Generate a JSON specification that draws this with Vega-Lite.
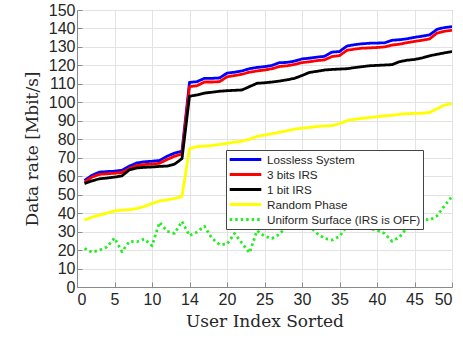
{
  "$schema": "https://vega.github.io/schema/vega-lite/v6.json",
  "width": 375,
  "height": 277,
  "autosize": {"type": "none"},
  "padding": {"left": 77, "top": 10, "right": 11, "bottom": 56},
  "background": "white",
  "config": {
    "view": {"stroke": "#8a8a8a", "strokeWidth": 1},
    "axis": {
      "domainColor": "#8a8a8a",
      "tickColor": "#8a8a8a",
      "gridColor": "#e3e3e3",
      "labelFont": "Liberation Sans",
      "labelFontSize": 16,
      "labelColor": "#262626",
      "titleFont": "DejaVu Serif",
      "titleFontSize": 17,
      "titleFontWeight": "normal",
      "titleColor": "#262626"
    },
    "legend": {
      "labelFont": "Liberation Sans",
      "labelFontSize": 11.7,
      "labelColor": "#262626"
    }
  },
  "data": {"values": [
    {"x":1,"s":"Lossless System","y":57.7},{"x":2,"s":"Lossless System","y":60.5},{"x":3,"s":"Lossless System","y":62.2},{"x":4,"s":"Lossless System","y":62.5},{"x":5,"s":"Lossless System","y":62.7},{"x":6,"s":"Lossless System","y":63.2},{"x":7,"s":"Lossless System","y":65.5},{"x":8,"s":"Lossless System","y":67.2},{"x":9,"s":"Lossless System","y":67.8},{"x":10,"s":"Lossless System","y":68.1},
    {"x":11,"s":"Lossless System","y":68.5},{"x":12,"s":"Lossless System","y":70.8},{"x":13,"s":"Lossless System","y":72.5},{"x":14,"s":"Lossless System","y":73.6},{"x":15,"s":"Lossless System","y":110.8},{"x":16,"s":"Lossless System","y":111.2},{"x":17,"s":"Lossless System","y":113},{"x":18,"s":"Lossless System","y":113},{"x":19,"s":"Lossless System","y":113.2},{"x":20,"s":"Lossless System","y":115.8},
    {"x":21,"s":"Lossless System","y":116.3},{"x":22,"s":"Lossless System","y":117},{"x":23,"s":"Lossless System","y":118.2},{"x":24,"s":"Lossless System","y":118.9},{"x":25,"s":"Lossless System","y":119.3},{"x":26,"s":"Lossless System","y":120},{"x":27,"s":"Lossless System","y":121.5},{"x":28,"s":"Lossless System","y":121.6},{"x":29,"s":"Lossless System","y":122.3},{"x":30,"s":"Lossless System","y":123.5},
    {"x":31,"s":"Lossless System","y":123.9},{"x":32,"s":"Lossless System","y":124.5},{"x":33,"s":"Lossless System","y":124.9},{"x":34,"s":"Lossless System","y":127.2},{"x":35,"s":"Lossless System","y":127.5},{"x":36,"s":"Lossless System","y":130.5},{"x":37,"s":"Lossless System","y":131.2},{"x":38,"s":"Lossless System","y":131.7},{"x":39,"s":"Lossless System","y":132},{"x":40,"s":"Lossless System","y":132.1},
    {"x":41,"s":"Lossless System","y":132.2},{"x":42,"s":"Lossless System","y":133.6},{"x":43,"s":"Lossless System","y":133.9},{"x":44,"s":"Lossless System","y":134.4},{"x":45,"s":"Lossless System","y":135.2},{"x":46,"s":"Lossless System","y":135.8},{"x":47,"s":"Lossless System","y":136.5},{"x":48,"s":"Lossless System","y":139.5},{"x":49,"s":"Lossless System","y":140.5},{"x":50,"s":"Lossless System","y":141},

    {"x":1,"s":"3 bits IRS","y":56.8},{"x":2,"s":"3 bits IRS","y":59.5},{"x":3,"s":"3 bits IRS","y":61},{"x":4,"s":"3 bits IRS","y":61.3},{"x":5,"s":"3 bits IRS","y":61.6},{"x":6,"s":"3 bits IRS","y":62},{"x":7,"s":"3 bits IRS","y":64.2},{"x":8,"s":"3 bits IRS","y":65.8},{"x":9,"s":"3 bits IRS","y":66.3},{"x":10,"s":"3 bits IRS","y":66.6},
    {"x":11,"s":"3 bits IRS","y":67},{"x":12,"s":"3 bits IRS","y":69},{"x":13,"s":"3 bits IRS","y":70.8},{"x":14,"s":"3 bits IRS","y":72},{"x":15,"s":"3 bits IRS","y":108.5},{"x":16,"s":"3 bits IRS","y":109},{"x":17,"s":"3 bits IRS","y":111},{"x":18,"s":"3 bits IRS","y":111},{"x":19,"s":"3 bits IRS","y":111.2},{"x":20,"s":"3 bits IRS","y":113.8},
    {"x":21,"s":"3 bits IRS","y":114.5},{"x":22,"s":"3 bits IRS","y":115.2},{"x":23,"s":"3 bits IRS","y":116.3},{"x":24,"s":"3 bits IRS","y":117},{"x":25,"s":"3 bits IRS","y":117.5},{"x":26,"s":"3 bits IRS","y":118.2},{"x":27,"s":"3 bits IRS","y":119.4},{"x":28,"s":"3 bits IRS","y":119.8},{"x":29,"s":"3 bits IRS","y":120.5},{"x":30,"s":"3 bits IRS","y":121.5},
    {"x":31,"s":"3 bits IRS","y":122},{"x":32,"s":"3 bits IRS","y":122.6},{"x":33,"s":"3 bits IRS","y":123},{"x":34,"s":"3 bits IRS","y":124.8},{"x":35,"s":"3 bits IRS","y":125.3},{"x":36,"s":"3 bits IRS","y":128.2},{"x":37,"s":"3 bits IRS","y":128.8},{"x":38,"s":"3 bits IRS","y":129.3},{"x":39,"s":"3 bits IRS","y":129.5},{"x":40,"s":"3 bits IRS","y":129.7},
    {"x":41,"s":"3 bits IRS","y":130},{"x":42,"s":"3 bits IRS","y":131},{"x":43,"s":"3 bits IRS","y":131.5},{"x":44,"s":"3 bits IRS","y":132.3},{"x":45,"s":"3 bits IRS","y":133},{"x":46,"s":"3 bits IRS","y":133.6},{"x":47,"s":"3 bits IRS","y":134.3},{"x":48,"s":"3 bits IRS","y":137.5},{"x":49,"s":"3 bits IRS","y":138.5},{"x":50,"s":"3 bits IRS","y":139},

    {"x":1,"s":"1 bit IRS","y":56},{"x":2,"s":"1 bit IRS","y":57.5},{"x":3,"s":"1 bit IRS","y":58.6},{"x":4,"s":"1 bit IRS","y":59},{"x":5,"s":"1 bit IRS","y":59.5},{"x":6,"s":"1 bit IRS","y":60.2},{"x":7,"s":"1 bit IRS","y":63.5},{"x":8,"s":"1 bit IRS","y":64.5},{"x":9,"s":"1 bit IRS","y":64.8},{"x":10,"s":"1 bit IRS","y":65},
    {"x":11,"s":"1 bit IRS","y":65.3},{"x":12,"s":"1 bit IRS","y":65.5},{"x":13,"s":"1 bit IRS","y":66.5},{"x":14,"s":"1 bit IRS","y":69.5},{"x":15,"s":"1 bit IRS","y":103.3},{"x":16,"s":"1 bit IRS","y":104},{"x":17,"s":"1 bit IRS","y":105},{"x":18,"s":"1 bit IRS","y":105.5},{"x":19,"s":"1 bit IRS","y":106},{"x":20,"s":"1 bit IRS","y":106.3},
    {"x":21,"s":"1 bit IRS","y":106.5},{"x":22,"s":"1 bit IRS","y":106.7},{"x":23,"s":"1 bit IRS","y":108.5},{"x":24,"s":"1 bit IRS","y":110.3},{"x":25,"s":"1 bit IRS","y":110.6},{"x":26,"s":"1 bit IRS","y":111},{"x":27,"s":"1 bit IRS","y":111.5},{"x":28,"s":"1 bit IRS","y":112.2},{"x":29,"s":"1 bit IRS","y":113},{"x":30,"s":"1 bit IRS","y":114.5},
    {"x":31,"s":"1 bit IRS","y":116.2},{"x":32,"s":"1 bit IRS","y":116.8},{"x":33,"s":"1 bit IRS","y":117.5},{"x":34,"s":"1 bit IRS","y":117.8},{"x":35,"s":"1 bit IRS","y":118},{"x":36,"s":"1 bit IRS","y":118.2},{"x":37,"s":"1 bit IRS","y":118.8},{"x":38,"s":"1 bit IRS","y":119.3},{"x":39,"s":"1 bit IRS","y":119.8},{"x":40,"s":"1 bit IRS","y":120},
    {"x":41,"s":"1 bit IRS","y":120.2},{"x":42,"s":"1 bit IRS","y":120.4},{"x":43,"s":"1 bit IRS","y":122},{"x":44,"s":"1 bit IRS","y":122.8},{"x":45,"s":"1 bit IRS","y":123.2},{"x":46,"s":"1 bit IRS","y":124},{"x":47,"s":"1 bit IRS","y":125.2},{"x":48,"s":"1 bit IRS","y":126},{"x":49,"s":"1 bit IRS","y":126.8},{"x":50,"s":"1 bit IRS","y":127.5},

    {"x":1,"s":"Random Phase","y":36.2},{"x":2,"s":"Random Phase","y":37.8},{"x":3,"s":"Random Phase","y":38.9},{"x":4,"s":"Random Phase","y":40},{"x":5,"s":"Random Phase","y":41.2},{"x":6,"s":"Random Phase","y":41.6},{"x":7,"s":"Random Phase","y":41.9},{"x":8,"s":"Random Phase","y":42.5},{"x":9,"s":"Random Phase","y":43.7},{"x":10,"s":"Random Phase","y":45.2},
    {"x":11,"s":"Random Phase","y":46.6},{"x":12,"s":"Random Phase","y":47.2},{"x":13,"s":"Random Phase","y":47.9},{"x":14,"s":"Random Phase","y":49.1},{"x":15,"s":"Random Phase","y":75},{"x":16,"s":"Random Phase","y":76},{"x":17,"s":"Random Phase","y":76.3},{"x":18,"s":"Random Phase","y":76.6},{"x":19,"s":"Random Phase","y":77.2},{"x":20,"s":"Random Phase","y":77.8},
    {"x":21,"s":"Random Phase","y":78.4},{"x":22,"s":"Random Phase","y":79},{"x":23,"s":"Random Phase","y":80},{"x":24,"s":"Random Phase","y":81.5},{"x":25,"s":"Random Phase","y":82.3},{"x":26,"s":"Random Phase","y":83},{"x":27,"s":"Random Phase","y":83.8},{"x":28,"s":"Random Phase","y":84.6},{"x":29,"s":"Random Phase","y":85.5},{"x":30,"s":"Random Phase","y":86},
    {"x":31,"s":"Random Phase","y":86.4},{"x":32,"s":"Random Phase","y":86.9},{"x":33,"s":"Random Phase","y":87.2},{"x":34,"s":"Random Phase","y":87.4},{"x":35,"s":"Random Phase","y":88.5},{"x":36,"s":"Random Phase","y":90.1},{"x":37,"s":"Random Phase","y":90.8},{"x":38,"s":"Random Phase","y":91.3},{"x":39,"s":"Random Phase","y":91.8},{"x":40,"s":"Random Phase","y":92.2},
    {"x":41,"s":"Random Phase","y":92.7},{"x":42,"s":"Random Phase","y":93},{"x":43,"s":"Random Phase","y":93.5},{"x":44,"s":"Random Phase","y":93.9},{"x":45,"s":"Random Phase","y":94},{"x":46,"s":"Random Phase","y":94.1},{"x":47,"s":"Random Phase","y":94.5},{"x":48,"s":"Random Phase","y":96.5},{"x":49,"s":"Random Phase","y":98.6},{"x":50,"s":"Random Phase","y":99.2},

    {"x":1,"s":"Uniform Surface (IRS is OFF)","y":20.9},{"x":2,"s":"Uniform Surface (IRS is OFF)","y":18.8},{"x":3,"s":"Uniform Surface (IRS is OFF)","y":20},{"x":4,"s":"Uniform Surface (IRS is OFF)","y":21.7},{"x":5,"s":"Uniform Surface (IRS is OFF)","y":26.5},{"x":6,"s":"Uniform Surface (IRS is OFF)","y":19.1},{"x":7,"s":"Uniform Surface (IRS is OFF)","y":24.7},{"x":8,"s":"Uniform Surface (IRS is OFF)","y":24.5},{"x":9,"s":"Uniform Surface (IRS is OFF)","y":26},{"x":10,"s":"Uniform Surface (IRS is OFF)","y":22.3},
    {"x":11,"s":"Uniform Surface (IRS is OFF)","y":35},{"x":12,"s":"Uniform Surface (IRS is OFF)","y":30.2},{"x":13,"s":"Uniform Surface (IRS is OFF)","y":29},{"x":14,"s":"Uniform Surface (IRS is OFF)","y":35.5},{"x":15,"s":"Uniform Surface (IRS is OFF)","y":27.8},{"x":16,"s":"Uniform Surface (IRS is OFF)","y":29.8},{"x":17,"s":"Uniform Surface (IRS is OFF)","y":32.9},{"x":18,"s":"Uniform Surface (IRS is OFF)","y":26.3},{"x":19,"s":"Uniform Surface (IRS is OFF)","y":23},{"x":20,"s":"Uniform Surface (IRS is OFF)","y":23.2},
    {"x":21,"s":"Uniform Surface (IRS is OFF)","y":29},{"x":22,"s":"Uniform Surface (IRS is OFF)","y":23.7},{"x":23,"s":"Uniform Surface (IRS is OFF)","y":18.5},{"x":24,"s":"Uniform Surface (IRS is OFF)","y":30.5},{"x":25,"s":"Uniform Surface (IRS is OFF)","y":27.5},{"x":26,"s":"Uniform Surface (IRS is OFF)","y":26.3},{"x":27,"s":"Uniform Surface (IRS is OFF)","y":28.6},{"x":28,"s":"Uniform Surface (IRS is OFF)","y":33},{"x":29,"s":"Uniform Surface (IRS is OFF)","y":35},{"x":30,"s":"Uniform Surface (IRS is OFF)","y":32},
    {"x":31,"s":"Uniform Surface (IRS is OFF)","y":33},{"x":32,"s":"Uniform Surface (IRS is OFF)","y":29},{"x":33,"s":"Uniform Surface (IRS is OFF)","y":26.3},{"x":34,"s":"Uniform Surface (IRS is OFF)","y":25.4},{"x":35,"s":"Uniform Surface (IRS is OFF)","y":27.5},{"x":36,"s":"Uniform Surface (IRS is OFF)","y":33},{"x":37,"s":"Uniform Surface (IRS is OFF)","y":35},{"x":38,"s":"Uniform Surface (IRS is OFF)","y":33.5},{"x":39,"s":"Uniform Surface (IRS is OFF)","y":31.5},{"x":40,"s":"Uniform Surface (IRS is OFF)","y":30.8},
    {"x":41,"s":"Uniform Surface (IRS is OFF)","y":29},{"x":42,"s":"Uniform Surface (IRS is OFF)","y":24.8},{"x":43,"s":"Uniform Surface (IRS is OFF)","y":27},{"x":44,"s":"Uniform Surface (IRS is OFF)","y":32},{"x":45,"s":"Uniform Surface (IRS is OFF)","y":34},{"x":46,"s":"Uniform Surface (IRS is OFF)","y":37},{"x":47,"s":"Uniform Surface (IRS is OFF)","y":36.2},{"x":48,"s":"Uniform Surface (IRS is OFF)","y":38.5},{"x":49,"s":"Uniform Surface (IRS is OFF)","y":44},{"x":50,"s":"Uniform Surface (IRS is OFF)","y":49}
  ]},
  "mark": {"type": "line", "strokeWidth": 2.8, "strokeJoin": "round", "clip": true},
  "encoding": {
    "x": {
      "field": "x", "type": "quantitative",
      "scale": {"domain": [0, 50], "nice": false, "zero": false},
      "axis": {
        "title": "User Index Sorted",
        "values": [0, 5, 10, 15, 20, 25, 30, 35, 40, 45, 50],
        "labelExpr": "datum.value == 15 ? '14' : datum.label",
        "tickSize": -5,
        "labelPadding": 9,
        "titlePadding": 6
      }
    },
    "y": {
      "field": "y", "type": "quantitative",
      "scale": {"domain": [0, 150], "nice": false},
      "axis": {
        "title": "Data rate [Mbit/s]",
        "values": [0, 10, 20, 30, 40, 50, 60, 70, 80, 90, 100, 110, 120, 130, 140, 150],
        "tickSize": -5,
        "labelPadding": 7,
        "titlePadding": 7
      }
    },
    "color": {
      "field": "s", "type": "nominal",
      "scale": {
        "domain": ["Lossless System", "3 bits IRS", "1 bit IRS", "Random Phase", "Uniform Surface (IRS is OFF)"],
        "range": ["#0000ff", "#ff0000", "#000000", "#ffff00", "#22ee22"]
      },
      "legend": {
        "title": null,
        "orient": "none",
        "legendX": 149,
        "legendY": 140,
        "fillColor": "white",
        "strokeColor": "#444444",
        "padding": 2,
        "rowPadding": 0,
        "clipHeight": 15,
        "symbolType": "stroke",
        "symbolSize": 1000,
        "symbolStrokeWidth": 3,
        "labelOffset": 4,
        "labelLimit": 400
      }
    },
    "strokeDash": {
      "field": "s", "type": "nominal",
      "scale": {
        "domain": ["Lossless System", "3 bits IRS", "1 bit IRS", "Random Phase", "Uniform Surface (IRS is OFF)"],
        "range": [[1, 0], [1, 0], [1, 0], [1, 0], [2.5, 3]]
      },
      "legend": null
    }
  }
}
